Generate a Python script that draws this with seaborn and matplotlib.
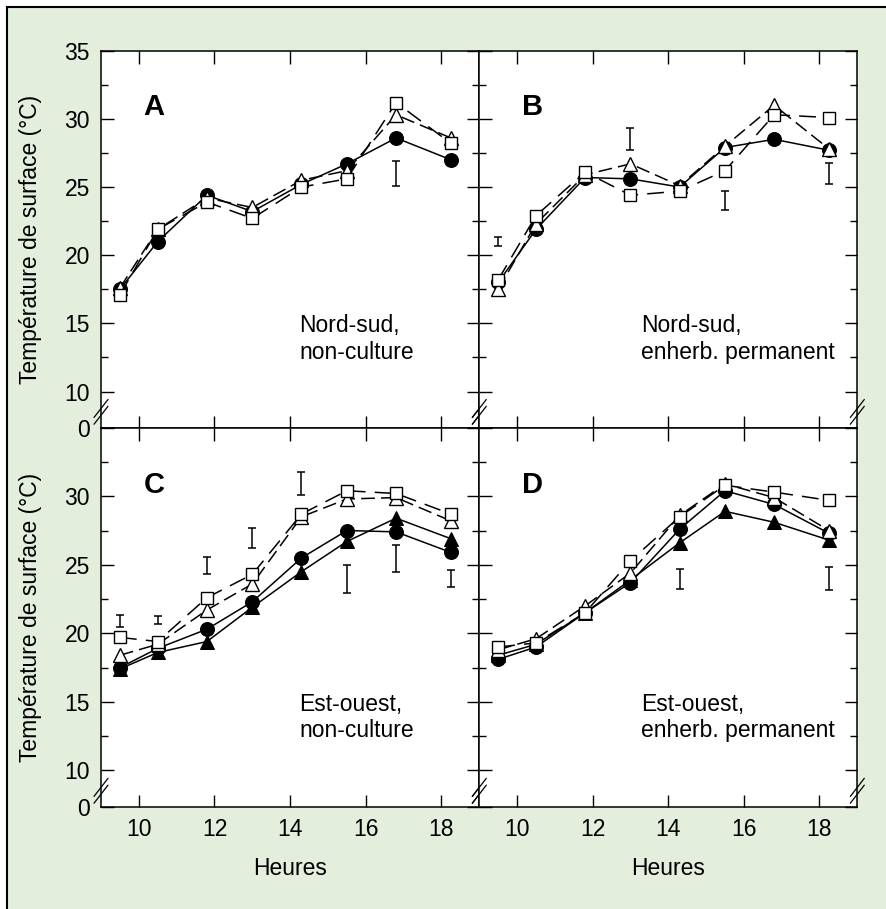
import numpy as np
import pandas as pd
import seaborn as sns
import matplotlib.pyplot as plt
from matplotlib.patches import Rectangle

# hours of measurement
hours = [9.5, 10.5, 11.8, 13.0, 14.3, 15.5, 16.8, 18.25]

# A : Nord-sud, non-culture
a_circ = [17.5, 21.0, 24.4, 23.2, 25.2, 26.7, 28.6, 27.0]
a_tri = [17.6, 21.9, 24.2, 23.5, 25.5, 26.2, 30.3, 28.6]
a_sq = [17.1, 21.9, 23.9, 22.7, 25.0, 25.6, 31.2, 28.2]

# B : Nord-sud, enherb. permanent
b_circ = [18.0, 21.9, 25.7, 25.6, 25.0, 27.9, 28.5, 27.7]
b_tri = [17.5, 22.3, 25.9, 26.7, 25.1, 28.0, 31.0, 27.8]
b_sq = [18.2, 22.9, 26.1, 24.4, 24.7, 26.2, 30.3, 30.1]

# C : Est-ouest, non-culture
c_circ = [17.5, 18.9, 20.3, 22.3, 25.5, 27.5, 27.4, 25.9]
c_trif = [17.4, 18.6, 19.4, 21.9, 24.5, 26.7, 28.4, 26.9]
c_tri = [18.4, 19.2, 21.7, 23.6, 28.5, 29.8, 29.9, 28.2]
c_sq = [19.7, 19.4, 22.6, 24.3, 28.7, 30.4, 30.2, 28.7]

# D : Est-ouest, enherb. permanent
d_circ = [18.1, 19.0, 21.5, 23.7, 27.6, 30.4, 29.4, 27.3]
d_trif = [18.4, 19.2, 21.5, 23.9, 26.6, 28.9, 28.1, 26.8]
d_tri = [18.8, 19.6, 22.0, 24.4, 28.6, 30.9, 29.9, 27.5]
d_sq = [19.0, 19.3, 21.5, 25.3, 28.5, 30.8, 30.3, 29.7]

# LSD bars (x, centre, half length)
a_lsd_x = [16.8]
a_lsd_y = [26.0]
a_lsd_h = [0.9]
b_lsd_x = [9.5, 13.0, 15.5, 18.25]
b_lsd_y = [21.0, 28.5, 24.0, 26.0]
b_lsd_h = [0.33, 0.8, 0.72, 0.8]
c_lsd_x = [9.5, 10.5, 11.8, 13.0, 14.3, 15.5, 16.8, 18.25]
c_lsd_y = [20.9, 20.97, 24.95, 26.95, 30.93, 23.96, 25.45, 24.0]
c_lsd_h = [0.44, 0.28, 0.6, 0.73, 0.85, 1.0, 0.98, 0.6]
d_lsd_x = [14.3, 18.25]
d_lsd_y = [23.95, 24.0]
d_lsd_h = [0.75, 0.85]

letters = ["A", "B", "C", "D"]
notes = ["Nord-sud,\nnon-culture", "Nord-sud,\nenherb. permanent",
         "Est-ouest,\nnon-culture", "Est-ouest,\nenherb. permanent"]

sns.set_style("ticks")
plt.rcParams['font.family'] = ['Liberation Sans', 'DejaVu Sans']
plt.rcParams['font.size'] = 16
plt.rcParams['text.color'] = 'black'
plt.rcParams['axes.labelcolor'] = 'black'
plt.rcParams['xtick.color'] = 'black'
plt.rcParams['ytick.color'] = 'black'

green = '#e3eedd'
fig = plt.figure(figsize=(8.87, 9.09), dpi=100, facecolor='white')
fig.patches.append(Rectangle((7 / 887, -0.05), 1.1, 902 / 909 + 0.05,
                             transform=fig.transFigure, facecolor=green,
                             edgecolor='black', lw=1.5, zorder=-10))

W, H = 887, 909
pos = [(101, 50.7, 479.3, 427.7), (479.3, 50.7, 857.3, 427.7),
       (101, 427.7, 479.3, 806.7), (479.3, 427.7, 857.3, 806.7)]
axes = []
for (x0, y0, x1, y1) in pos:
    ax = fig.add_axes([x0 / W, 1 - y1 / H, (x1 - x0) / W, (y1 - y0) / H])
    ax.set_facecolor('white')
    axes.append(ax)

panels = [
    (None, a_circ, a_tri, a_sq, a_lsd_x, a_lsd_y, a_lsd_h),
    (None, b_circ, b_tri, b_sq, b_lsd_x, b_lsd_y, b_lsd_h),
    (c_trif, c_circ, c_tri, c_sq, c_lsd_x, c_lsd_y, c_lsd_h),
    (d_trif, d_circ, d_tri, d_sq, d_lsd_x, d_lsd_y, d_lsd_h),
]

ybot = 7.35
for i, (ax, p) in enumerate(zip(axes, panels)):
    trif, circ, tri, sq, lx, ly, lh = p
    if trif is not None:
        sns.lineplot(x=hours, y=trif, ax=ax, color='black', lw=1.1,
                     marker='^', markersize=9.5, markerfacecolor='black',
                     markeredgecolor='black', errorbar=None)
    sns.lineplot(x=hours, y=circ, ax=ax, color='black', lw=1.1,
                 marker='o', markersize=10, markerfacecolor='black',
                 markeredgecolor='black', errorbar=None)
    sns.lineplot(x=hours, y=tri, ax=ax, color='black', lw=1.1,
                 linestyle=(0, (9, 4)), marker='^', markersize=9.5,
                 markerfacecolor='white', markeredgecolor='black',
                 markeredgewidth=1, errorbar=None)
    sns.lineplot(x=hours, y=sq, ax=ax, color='black', lw=1.1,
                 linestyle=(0, (11, 6)), marker='s', markersize=8.5,
                 markerfacecolor='white', markeredgecolor='black',
                 markeredgewidth=1, errorbar=None)
    ax.errorbar(lx, ly, yerr=lh, fmt='none', ecolor='black', elinewidth=1.1,
                capsize=3, capthick=1.1)

    ax.set_xlim(9, 19)
    ax.set_ylim(ybot, 35)
    ax.set_xticks([10, 12, 14, 16, 18])
    yt = [ybot, 10, 15, 20, 25, 30, 35]
    ax.set_yticks(yt)
    ax.set_yticks([12.5, 17.5, 22.5, 27.5, 32.5], minor=True)
    ax.tick_params(which='both', direction='in', top=True, right=True,
                   width=1, color='black', labelcolor='black',
                   labelsize=16.5, pad=8)
    ax.tick_params(which='major', length=9)
    ax.tick_params(which='minor', length=5)
    ax.tick_params(axis='x', pad=8)
    for s in ax.spines.values():
        s.set_linewidth(1.1)
        s.set_color('black')

    if i % 2 == 0:
        lab = ['0', '10', '15', '20', '25', '30', '35' if i == 0 else '']
        ax.set_yticklabels(lab)
        ax.set_ylabel("Température de surface (°C)", fontsize=16.5,
                      color='black')
        ax.yaxis.set_label_coords(-0.156, 0.5)
    else:
        ax.set_yticklabels([])
        ax.set_ylabel("")
    if i >= 2:
        ax.set_xticklabels(['10', '12', '14', '16', '18'])
        ax.set_xlabel("Heures", fontsize=16.5, color='black')
        ax.xaxis.set_label_coords(0.5, -0.133)
    else:
        ax.set_xticklabels([])
        ax.set_xlabel("")

    ax.text(10.4, 30.85, letters[i], fontsize=21, fontweight='bold',
            ha='center', va='center', color='black')
    nx = 14.25 if i % 2 == 0 else 13.29
    ax.text(nx, 13.85, notes[i], fontsize=16.5, ha='left', va='center',
            linespacing=1.2, color='black')

    # axis break marks
    yb = 0.042
    dx, dy = 7 / 378, 9 / 377
    for xs in (0, 1):
        for off in (-0.009, 0.009):
            ax.plot([xs - dx, xs + dx], [yb + off - dy, yb + off + dy],
                    transform=ax.transAxes, color='black', lw=0.9,
                    clip_on=False, zorder=5)

fig.savefig('out.png', dpi=100, facecolor='white')
